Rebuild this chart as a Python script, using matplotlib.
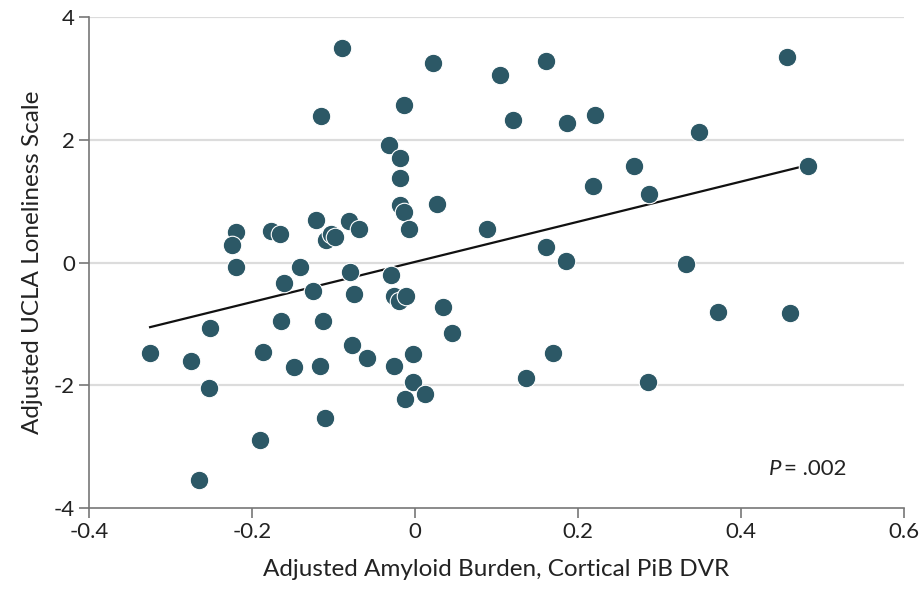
import matplotlib
matplotlib.use("Agg")
import matplotlib.pyplot as plt
import numpy as np
from matplotlib import font_manager

amyloid = [-0.325, -0.275, -0.253, -0.251, -0.265, -0.219, -0.224, -0.219, -0.190, -0.186,
           -0.177, -0.165, -0.161, -0.164, -0.148, -0.141, -0.125, -0.121, -0.115, -0.116,
           -0.113, -0.110, -0.109, -0.103, -0.098, -0.089, -0.081, -0.080, -0.077, -0.075,
           -0.068, -0.059, -0.032, -0.029, -0.025, -0.026, -0.018, -0.018, -0.018, -0.020,
           -0.013, -0.013, -0.011, -0.007, -0.012, -0.002, -0.002, 0.013, 0.022, 0.027,
           0.034, 0.045, 0.088, 0.104, 0.120, 0.136, 0.161, 0.161, 0.170, 0.185,
           0.187, 0.221, 0.219, 0.269, 0.286, 0.288, 0.333, 0.349, 0.372, 0.457,
           0.461, 0.482]
loneliness = [-1.47, -1.61, -2.05, -1.07, -3.54, 0.50, 0.28, -0.08, -2.90, -1.45,
              0.52, 0.46, -0.33, -0.96, -1.71, -0.07, -0.47, 0.70, 2.39, -1.68,
              -0.96, -2.54, 0.36, 0.47, 0.41, 3.49, 0.67, -0.15, -1.34, -0.52,
              0.54, -1.55, 1.92, -0.21, -1.68, -0.54, 1.71, 1.38, 0.93, -0.62,
              0.83, 2.56, -0.54, 0.54, -2.23, -1.49, -1.95, -2.14, 3.26, 0.96,
              -0.72, -1.14, 0.54, 3.06, 2.33, -1.88, 3.29, 0.26, -1.47, 0.02,
              2.28, 2.41, 1.25, 1.58, -1.94, 1.11, -0.03, 2.13, -0.80, 3.35,
              -0.83, 1.58]
fit_slope = 3.27
fit_intercept = 0.01
x_ticks = [-0.4, -0.2, 0, 0.2, 0.4, 0.6]
x_tick_labels = ["-0.4", "-0.2", "0", "0.2", "0.4", "0.6"]
y_ticks = [-4, -2, 0, 2, 4]
y_tick_labels = ["-4", "-2", "0", "2", "4"]
p_text = ".002"

names = {f.name for f in font_manager.fontManager.ttflist}
fam = "Liberation Sans Narrow" if "Liberation Sans Narrow" in names else "Lato"
plt.rcParams['font.family'] = [fam, 'DejaVu Sans']
plt.rcParams['axes.unicode_minus'] = False

fig = plt.figure(figsize=(9.24, 5.90), dpi=100)
ax = fig.add_axes([0.0963, 0.139, 0.8817, 0.832])

ax.set_xlim(-0.4, 0.6)
ax.set_ylim(-4, 4)

for yv in y_ticks[1:]:
    ax.axhline(yv, color="#dcdcdc", lw=1.6, zorder=0)

xs = np.array([min(amyloid), max(amyloid)])
ax.plot(xs, fit_slope * xs + fit_intercept, color="#111111", lw=1.6, zorder=2)

ax.scatter(amyloid, loneliness, s=178, color="#2c5866", edgecolor="white",
           linewidth=0.8, zorder=3)

ax.set_xticks(x_ticks)
ax.set_xticklabels(x_tick_labels)
ax.set_yticks(y_ticks)
ax.set_yticklabels(y_tick_labels)

for s in ["top", "right"]:
    ax.spines[s].set_visible(False)
for s in ["left", "bottom"]:
    ax.spines[s].set_color("#777777")
    ax.spines[s].set_linewidth(1.2)
ax.tick_params(axis="both", colors="#777777", length=7, width=1.2, labelsize=16,
               labelcolor="#222222", pad=3)

ax.set_xlabel("Adjusted Amyloid Burden, Cortical PiB DVR", fontsize=17.5, color="#222222", labelpad=12)
ax.set_ylabel("Adjusted UCLA Loneliness Scale", fontsize=17.5, color="#222222", labelpad=8)

ax.text(0.434, -3.37, "P", fontsize=16, style="italic", color="#222222", va="center", ha="left")
ax.text(0.453, -3.37, "= " + p_text, fontsize=16, color="#222222", va="center", ha="left")

fig.savefig("out.png", dpi=100)
